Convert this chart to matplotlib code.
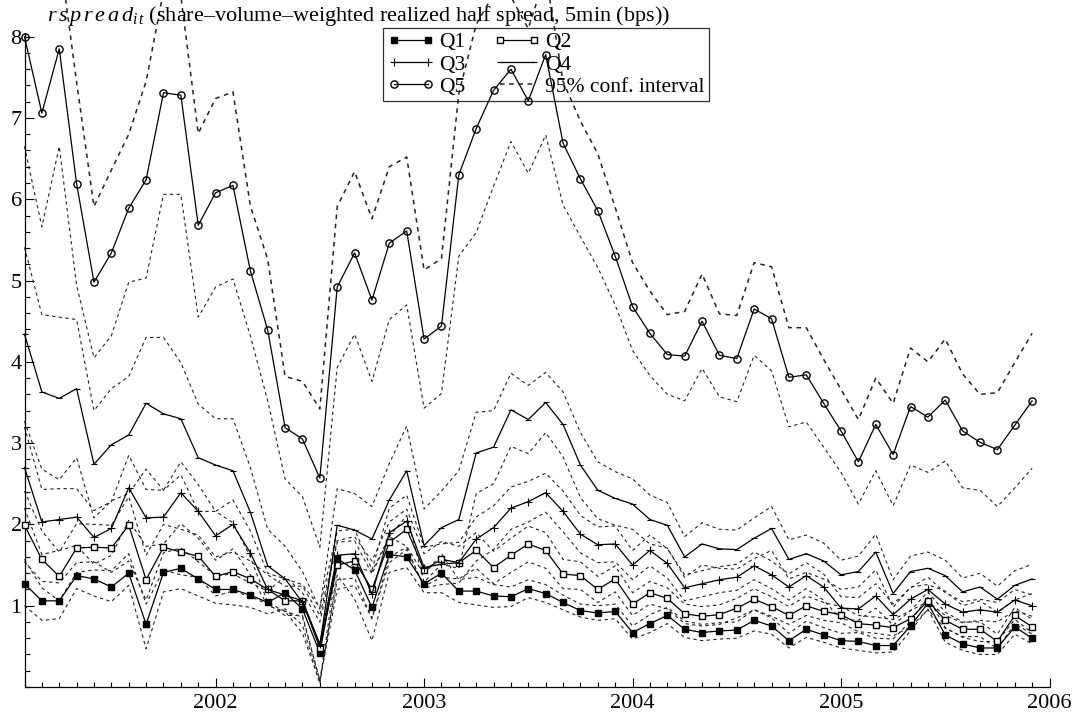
import numpy as np
import matplotlib
matplotlib.use("Agg")
import matplotlib.pyplot as plt
from matplotlib.ticker import MultipleLocator, FixedLocator, NullFormatter

plt.rcParams["font.family"] = ["Liberation Serif", "DejaVu Serif"]
plt.rcParams["mathtext.fontset"] = "custom"
plt.rcParams["mathtext.rm"] = "Liberation Serif"
plt.rcParams["mathtext.it"] = "Liberation Serif:italic"

# monthly averages, Feb 2001 .. Dec 2005 (bps)
first_year, first_month, n_months = 2001, 2, 59

q1 = [1.27, 1.06, 1.06, 1.37, 1.33, 1.23, 1.40, 0.77, 1.41, 1.46,
      1.33, 1.20, 1.20, 1.13, 1.04, 1.16, 0.96, 0.42, 1.58, 1.44,
      0.98, 1.63, 1.60, 1.27, 1.40, 1.18, 1.18, 1.12, 1.11, 1.21,
      1.15, 1.04, 0.94, 0.91, 0.93, 0.67, 0.78, 0.88, 0.71, 0.67,
      0.69, 0.70, 0.82, 0.75, 0.57, 0.71, 0.64, 0.57, 0.56, 0.51,
      0.51, 0.75, 1.03, 0.64, 0.53, 0.48, 0.48, 0.74, 0.60]
q2 = [1.99, 1.57, 1.36, 1.71, 1.72, 1.71, 1.99, 1.32, 1.72, 1.66,
      1.61, 1.36, 1.42, 1.33, 1.20, 1.06, 1.06, 0.48, 1.50, 1.55,
      1.20, 1.78, 1.94, 1.44, 1.57, 1.53, 1.68, 1.47, 1.62, 1.76,
      1.68, 1.39, 1.37, 1.20, 1.33, 1.02, 1.16, 1.09, 0.90, 0.87,
      0.89, 0.97, 1.08, 0.99, 0.88, 1.00, 0.93, 0.89, 0.78, 0.76,
      0.73, 0.84, 1.06, 0.82, 0.71, 0.71, 0.56, 0.88, 0.74]
q3 = [2.70, 2.03, 2.06, 2.09, 1.84, 1.95, 2.45, 2.08, 2.09, 2.39,
      2.16, 1.86, 2.00, 1.65, 1.20, 1.13, 1.06, 0.53, 1.62, 1.64,
      1.14, 1.90, 2.04, 1.47, 1.51, 1.53, 1.82, 1.96, 2.20, 2.28,
      2.39, 2.16, 1.88, 1.75, 1.76, 1.50, 1.68, 1.52, 1.22, 1.27,
      1.32, 1.35, 1.49, 1.38, 1.23, 1.37, 1.23, 0.97, 0.96, 1.12,
      0.89, 1.08, 1.20, 1.02, 0.92, 0.95, 0.92, 1.07, 1.00]
q4 = [4.34, 3.63, 3.55, 3.67, 2.74, 2.98, 3.10, 3.49, 3.36, 3.30,
      2.82, 2.73, 2.66, 2.15, 1.49, 1.33, 1.04, 0.51, 1.99, 1.93,
      1.82, 2.30, 2.66, 1.74, 1.96, 2.06, 2.88, 2.95, 3.41, 3.29,
      3.50, 3.23, 2.73, 2.42, 2.32, 2.25, 2.06, 1.99, 1.60, 1.76,
      1.70, 1.69, 1.83, 1.95, 1.57, 1.64, 1.55, 1.38, 1.42, 1.66,
      1.15, 1.42, 1.46, 1.37, 1.17, 1.23, 1.08, 1.25, 1.33]
q5 = [8.00, 7.06, 7.85, 6.19, 4.98, 5.34, 5.89, 6.24, 7.31, 7.28,
      5.68, 6.08, 6.17, 5.12, 4.39, 3.19, 3.05, 2.57, 4.92, 5.34,
      4.76, 5.46, 5.61, 4.28, 4.44, 6.30, 6.87, 7.34, 7.60, 7.21,
      7.78, 6.69, 6.25, 5.86, 5.30, 4.68, 4.35, 4.09, 4.07, 4.50,
      4.08, 4.04, 4.65, 4.53, 3.81, 3.84, 3.49, 3.15, 2.77, 3.23,
      2.86, 3.45, 3.32, 3.53, 3.15, 3.01, 2.92, 3.22, 3.52]

# half width of the 95% confidence band
hw_q1 = [0.27, 0.24, 0.22, 0.16, 0.21, 0.18, 0.15, 0.30, 0.24, 0.25,
         0.21, 0.17, 0.19, 0.15, 0.14, 0.20, 0.20, 0.38, 0.20, 0.36,
         0.41, 0.22, 0.13, 0.11, 0.24, 0.14, 0.17, 0.14, 0.12, 0.11,
         0.11, 0.09, 0.08, 0.09, 0.09, 0.08, 0.11, 0.10, 0.10, 0.10,
         0.10, 0.10, 0.13, 0.10, 0.09, 0.10, 0.09, 0.09, 0.11, 0.09,
         0.08, 0.06, 0.07, 0.09, 0.08, 0.08, 0.08, 0.09, 0.07]
hw_q2 = [0.42, 0.35, 0.30, 0.30, 0.28, 0.28, 0.35, 0.30, 0.28, 0.28,
         0.26, 0.24, 0.24, 0.22, 0.18, 0.18, 0.18, 0.40, 0.30, 0.30,
         0.35, 0.25, 0.25, 0.20, 0.22, 0.20, 0.22, 0.20, 0.21, 0.22,
         0.22, 0.18, 0.17, 0.16, 0.16, 0.14, 0.14, 0.13, 0.12, 0.12,
         0.12, 0.12, 0.13, 0.12, 0.11, 0.12, 0.11, 0.10, 0.10, 0.10,
         0.10, 0.10, 0.11, 0.10, 0.09, 0.09, 0.09, 0.10, 0.09]
hw_q3 = [0.50, 0.40, 0.38, 0.35, 0.33, 0.33, 0.40, 0.35, 0.33, 0.38,
         0.33, 0.30, 0.30, 0.27, 0.20, 0.20, 0.20, 0.45, 0.30, 0.30,
         0.30, 0.30, 0.32, 0.25, 0.25, 0.25, 0.27, 0.27, 0.26, 0.25,
         0.24, 0.25, 0.23, 0.22, 0.22, 0.18, 0.19, 0.18, 0.16, 0.16,
         0.16, 0.16, 0.17, 0.17, 0.16, 0.16, 0.16, 0.14, 0.14, 0.15,
         0.13, 0.14, 0.15, 0.14, 0.13, 0.13, 0.12, 0.13, 0.13]
hw_q4 = [1.07, 0.95, 1.00, 0.85, 0.66, 0.69, 0.72, 0.81, 0.94, 0.69,
         0.66, 0.57, 0.64, 0.55, 0.45, 0.40, 0.38, 0.45, 0.45, 0.45,
         0.40, 0.45, 0.55, 0.45, 0.45, 0.60, 0.50, 0.45, 0.45, 0.42,
         0.37, 0.40, 0.40, 0.35, 0.33, 0.31, 0.30, 0.28, 0.25, 0.26,
         0.24, 0.24, 0.25, 0.27, 0.24, 0.23, 0.22, 0.18, 0.19, 0.22,
         0.17, 0.19, 0.20, 0.19, 0.17, 0.17, 0.16, 0.18, 0.18]
hw_q5 = [1.35, 1.40, 1.20, 1.25, 0.93, 1.02, 0.91, 1.21, 1.25, 1.22,
         1.13, 1.16, 1.15, 0.80, 0.87, 0.63, 0.71, 0.85, 0.99, 1.00,
         1.00, 0.94, 0.91, 0.85, 0.83, 1.00, 1.28, 1.18, 0.89, 0.89,
         0.99, 0.76, 0.71, 0.70, 0.60, 0.54, 0.52, 0.49, 0.55, 0.58,
         0.51, 0.53, 0.57, 0.64, 0.61, 0.58, 0.54, 0.51, 0.52, 0.57,
         0.63, 0.72, 0.68, 0.75, 0.70, 0.59, 0.70, 0.77, 0.83]

years = [2002, 2003, 2004, 2005, 2006]
y_ticks = [1, 2, 3, 4, 5, 6, 7, 8]

t = first_year + (first_month - 1 + np.arange(n_months)) / 12.0

fig = plt.figure(figsize=(10.81, 7.17), dpi=100)
ax = fig.add_axes([24.5 / 1081, 1 - 687 / 717, 1025 / 1081, 654.4 / 717])

ci_style = dict(color="#222222", linestyle=(0, (3, 3)), linewidth=0.8, clip_on=False)
series = [
    ("Q1", q1, hw_q1, dict(marker="s", markersize=4.5, markerfacecolor="black")),
    ("Q2", q2, hw_q2, dict(marker="s", markersize=4.5, markerfacecolor="white")),
    ("Q3", q3, hw_q3, dict(marker="+", markersize=6, markeredgewidth=0.8)),
    ("Q4", q4, hw_q4, dict(marker="_", markersize=5, markeredgewidth=0.8)),
    ("Q5", q5, hw_q5, dict(marker="o", markersize=5.2, markerfacecolor="none")),
]

handles = {}
for name, vals, hw, mstyle in series:
    vals = np.asarray(vals)
    hw = np.asarray(hw)
    lw_up = 1.1 if name == "Q5" else 0.8
    ci, = ax.plot(t, vals + hw, **{**ci_style, "linewidth": lw_up})
    ax.plot(t, vals - hw, **ci_style)
    handles["ci"] = ci

for name, vals, hw, mstyle in series:
    line, = ax.plot(t, vals, color="black", linewidth=0.9, markeredgecolor="black",
                    clip_on=False, zorder=3, **mstyle)
    handles[name] = line

ax.set_xlim(t[0], 2006)
ax.set_ylim(0, 8.05)

for side in ("top", "right"):
    ax.spines[side].set_visible(False)
for side in ("left", "bottom"):
    ax.spines[side].set_linewidth(0.9)

ax.xaxis.set_major_locator(FixedLocator(years))
ax.xaxis.set_minor_locator(FixedLocator(t))
ax.set_xticklabels([str(y) for y in years])
ax.yaxis.set_major_locator(FixedLocator(y_ticks))
ax.yaxis.set_minor_locator(MultipleLocator(0.2))
ax.yaxis.set_minor_formatter(NullFormatter())

ax.tick_params(axis="both", which="major", direction="in", length=6.5, width=0.8,
               labelsize=16)
ax.tick_params(axis="both", which="minor", direction="in", length=3.5, width=0.8)
ax.tick_params(axis="x", which="major", pad=5)
ax.tick_params(axis="y", which="major", pad=2)

fig.text(47 / 1081, 1 - 21 / 717,
         r"$r\,s\,p\,r\,e\,a\,d_{i\,t}$ (share–volume–weighted realized half spread, 5min (bps))",
         fontsize=16, ha="left", va="baseline")

order = ["Q1", "Q3", "Q5", "Q2", "Q4", "ci"]
labels = {"Q1": "Q1", "Q2": "Q2", "Q3": "Q3", "Q4": "Q4", "Q5": "Q5",
          "ci": "95% conf. interval"}
leg = fig.legend([handles[k] for k in order], [labels[k] for k in order],
                 ncol=2, loc="upper left", bbox_to_anchor=(383 / 1081, 1 - 28 / 717),
                 bbox_transform=fig.transFigure, borderaxespad=0, fontsize=15.5,
                 frameon=True, fancybox=False, edgecolor="black", facecolor="none",
                 framealpha=None, handlelength=2.2, handletextpad=0.2,
                 columnspacing=1.3, labelspacing=0.1, borderpad=0.2, numpoints=2)
leg.get_frame().set_linewidth(0.9)

fig.savefig("out.png", dpi=100)
